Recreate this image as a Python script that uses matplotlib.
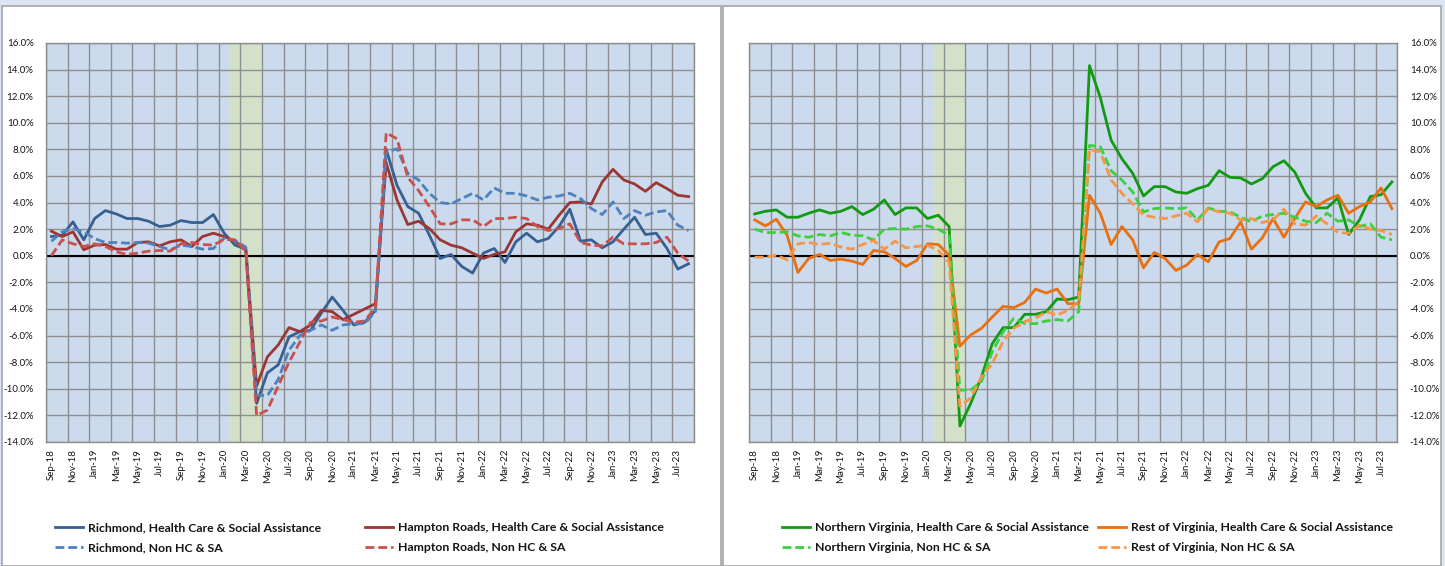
import matplotlib
matplotlib.use("Agg")
import matplotlib.pyplot as plt
from matplotlib.patches import Rectangle
import numpy as np
import pandas as pd

plt.rcParams['font.family'] = ['Lato', 'DejaVu Sans']

months = list(pd.date_range('2018-09-01', periods=60, freq='MS').strftime('%b-%y'))

rich_hc = [1.45, 1.55, 2.55, 1.2, 2.8, 3.4, 3.15, 2.8, 2.8, 2.6, 2.2, 2.3, 2.65, 2.5, 2.5, 3.1, 1.7, 0.8, 0.5,
           -11.1, -8.8, -8.2, -6.1, -5.7, -5.6, -4.3, -3.1, -4.1, -5.2, -5.0, -4.1,
           8.0, 5.3, 3.7, 3.2, 1.55, -0.2, 0.1, -0.8, -1.3, 0.2, 0.55, -0.5, 1.05, 1.7, 1.05, 1.3, 2.2, 3.5,
           1.1, 1.2, 0.6, 1.05, 2.0, 2.9, 1.6, 1.7, 0.55, -1.0, -0.6]
hr_hc = [1.85, 1.45, 1.8, 0.45, 0.8, 0.85, 0.5, 0.5, 1.0, 1.05, 0.75, 1.05, 1.2, 0.7, 1.45, 1.7, 1.45, 1.1, 0.45,
         -9.8, -7.6, -6.7, -5.4, -5.7, -5.2, -4.1, -4.2, -4.8, -4.4, -4.0, -3.6,
         7.0, 4.2, 2.35, 2.6, 2.05, 1.2, 0.8, 0.6, 0.2, -0.2, 0.1, 0.3, 1.8, 2.4, 2.3, 2.0, 3.05, 4.0,
         4.05, 3.9, 5.55, 6.5, 5.7, 5.4, 4.85, 5.5, 5.05, 4.55, 4.45]
rich_non = [1.1, 1.8, 2.05, 1.8, 1.3, 1.0, 1.0, 0.95, 1.0, 0.95, 0.7, 0.45, 0.8, 0.7, 0.5, 0.55, 1.35, 1.15, 0.65,
            -10.5, -10.5, -9.3, -7.1, -6.0, -5.6, -5.2, -5.6, -5.2, -5.1, -5.1, -4.2,
            7.8, 8.05, 6.2, 5.7, 4.7, 4.0, 3.9, 4.3, 4.7, 4.2, 5.1, 4.7, 4.7, 4.5, 4.2, 4.4, 4.5, 4.7,
            4.3, 3.55, 3.1, 4.05, 2.8, 3.4, 3.05, 3.3, 3.4, 2.3, 1.9]
hr_non = [0.0, 1.2, 0.9, 0.7, 0.9, 0.7, 0.3, 0.1, 0.2, 0.35, 0.4, 0.35, 0.9, 1.0, 0.85, 0.8, 1.25, 1.2, 0.35,
          -12.0, -11.6, -9.8, -8.0, -6.5, -5.0, -4.9, -4.6, -4.8, -5.0, -4.9, -3.9,
          9.25, 8.8, 5.9, 4.9, 3.7, 2.4, 2.4, 2.7, 2.7, 2.2, 2.8, 2.8, 2.9, 2.8, 2.2, 1.9, 2.05, 2.4,
          1.0, 0.8, 0.75, 1.4, 0.9, 0.9, 0.9, 1.0, 1.4, 0.2, -0.4]

nova_hc = [3.15, 3.35, 3.45, 2.9, 2.9, 3.2, 3.45, 3.2, 3.35, 3.7, 3.1, 3.5, 4.2, 3.1, 3.6, 3.6, 2.8, 3.05, 2.2,
           -12.8, -11.1, -9.1, -6.6, -5.4, -5.4, -4.4, -4.4, -4.2, -3.25, -3.3, -3.1,
           14.3, 11.9, 8.7, 7.3, 6.2, 4.5, 5.2, 5.2, 4.8, 4.7, 5.05, 5.3, 6.4, 5.9, 5.85, 5.4, 5.8, 6.7,
           7.15, 6.3, 4.7, 3.6, 3.6, 4.35, 1.6, 2.7, 4.45, 4.6, 5.55]
rest_hc = [2.7, 2.25, 2.75, 1.55, -1.25, -0.2, 0.1, -0.35, -0.25, -0.4, -0.65, 0.4, 0.3, -0.2, -0.8, -0.35, 0.9, 0.85, 0.05,
           -6.8, -5.95, -5.45, -4.6, -3.8, -3.9, -3.5, -2.5, -2.8, -2.5, -3.6, -3.6,
           4.55, 3.2, 0.85, 2.2, 1.2, -0.9, 0.25, -0.2, -1.1, -0.7, 0.1, -0.45, 1.05, 1.3, 2.55, 0.5, 1.35, 2.8,
           1.4, 2.8, 4.05, 3.7, 4.2, 4.55, 3.2, 3.7, 4.05, 5.1, 3.55]
nova_non = [2.0, 1.75, 1.75, 1.8, 1.5, 1.4, 1.6, 1.5, 1.75, 1.55, 1.5, 1.2, 2.0, 2.05, 2.0, 2.2, 2.25, 2.0, 1.55,
            -10.1, -10.1, -9.45, -7.2, -5.7, -4.7, -5.1, -5.1, -4.9, -4.8, -4.9, -4.2,
            8.3, 8.2, 6.4, 5.7, 4.8, 3.3, 3.55, 3.6, 3.55, 3.6, 2.7, 3.6, 3.35, 3.3, 2.9, 2.55, 3.0, 3.1,
            3.2, 2.9, 2.6, 2.5, 3.2, 2.6, 2.7, 2.2, 2.4, 1.4, 1.2]
rest_non = [-0.1, -0.1, 0.05, -0.3, 0.9, 1.0, 0.85, 0.95, 0.65, 0.5, 0.85, 1.15, 0.5, 1.1, 0.6, 0.7, 0.8, 0.4, -0.5,
            -11.3, -10.7, -9.1, -8.1, -6.45, -5.45, -4.95, -4.7, -4.2, -4.45, -4.1, -3.45,
            8.0, 7.8, 5.7, 4.7, 3.9, 3.05, 2.9, 2.8, 3.0, 3.2, 2.55, 3.55, 3.3, 3.2, 2.7, 2.8, 2.5, 2.7,
            3.5, 2.4, 2.3, 3.0, 2.4, 1.75, 1.7, 2.3, 2.0, 1.9, 1.6]

recession_start, recession_end = 'Feb-20', 'Apr-20'

W, H = 1445, 566
fig = plt.figure(figsize=(W / 100, H / 100), dpi=100)
fig.patch.set_facecolor('#DCE6F2')

# chart panels
for x0, x1 in [(2, 721), (723, 1441)]:
    fig.add_artist(Rectangle((x0 / W, 0), (x1 - x0) / W, (H - 6) / H, transform=fig.transFigure,
                             facecolor='white', edgecolor='#A6A6A6', linewidth=1.2, zorder=0))

bottom = (H - 442) / H
height = 399 / H
width = 648 / W
ax1 = fig.add_axes([46 / W, bottom, width, height])
ax2 = fig.add_axes([749.3 / W, bottom, width, height])

x = np.arange(len(months))
dash = (0, (3.2, 1.4))
lw = 2.0
tick_fs = 7.0


def style(ax, right=False):
    ax.set_facecolor('#CBDAEC')
    ax.set_xlim(-0.5, len(months) - 0.5)
    ax.set_ylim(-14, 16)
    yt = np.arange(-14, 17, 2)
    ax.set_yticks(yt)
    ax.set_yticklabels([f"{v:.1f}%" for v in yt], fontsize=tick_fs, color='#141414')
    ax.set_xticks(x[::2])
    ax.set_xticklabels(months[::2], rotation=90, fontsize=tick_fs, color='#141414')
    ax.set_xticks(np.arange(-0.5, len(months), 2), minor=True)
    ax.tick_params(axis='both', which='both', length=0)
    ax.tick_params(axis='y', pad=9)
    ax.tick_params(axis='x', pad=5)
    ax.grid(which='minor', axis='x', color='#8E8E8E', linewidth=1.0, zorder=0.5)
    ax.grid(which='major', axis='y', color='#8E8E8E', linewidth=1.0, zorder=0.5)
    ax.grid(which='major', axis='x', visible=False)
    ax.set_axisbelow(True)
    for s in ax.spines.values():
        s.set_color('#8E8E8E')
        s.set_linewidth(1.0)
    i0 = months.index(recession_start)
    i1 = months.index(recession_end)
    ax.axvspan(i0 - 0.5, i1 + 0.5, color='#D3E1CB', zorder=0.3, linewidth=0)
    ax.axhline(0, color='black', linewidth=1.5, zorder=1.5)
    if right:
        ax.yaxis.tick_right()
        ax.tick_params(axis='y', which='both', length=0, pad=9)


style(ax1)
style(ax2, right=True)

kw = dict(linewidth=lw, solid_joinstyle='round', dash_joinstyle='round', zorder=3)
l1, = ax1.plot(x, rich_hc, color='#376092', label='Richmond, Health Care & Social Assistance', **kw)
l2, = ax1.plot(x, hr_hc, color='#9B3634', label='Hampton Roads, Health Care & Social Assistance', **kw)
l3, = ax1.plot(x, rich_non, color='#4F81BD', linestyle=dash, label='Richmond, Non HC & SA', **kw)
l4, = ax1.plot(x, hr_non, color='#C9504D', linestyle=dash, label='Hampton Roads, Non HC & SA', **kw)

r1, = ax2.plot(x, nova_hc, color='#129A12', label='Northern Virginia, Health Care & Social Assistance', **kw)
r2, = ax2.plot(x, rest_hc, color='#E8700F', label='Rest of Virginia, Health Care & Social Assistance', **kw)
r3, = ax2.plot(x, nova_non, color='#3DD03D', linestyle=dash, label='Northern Virginia, Non HC & SA', **kw)
r4, = ax2.plot(x, rest_non, color='#F79646', linestyle=dash, label='Rest of Virginia, Non HC & SA', **kw)

leg_fs = 8.8
leg_y = (H - 537.5) / H
lkw = dict(loc='center left', frameon=False, borderpad=0, borderaxespad=0, handlelength=28 / (leg_fs * 100 / 72),
           handletextpad=5 / (leg_fs * 100 / 72), labelspacing=0.72,
           prop={'family': ['Lato', 'DejaVu Sans'], 'weight': 'bold', 'size': leg_fs})
for handles, xpx in [([l1, l3], 55), ([l2, l4], 365), ([r1, r3], 782), ([r2, r4], 1098)]:
    leg = fig.legend(handles=handles, bbox_to_anchor=(xpx / W, leg_y), **lkw)
    for t in leg.get_texts():
        t.set_color('#141414')

fig.savefig('out.png', dpi=100, facecolor=fig.get_facecolor())
